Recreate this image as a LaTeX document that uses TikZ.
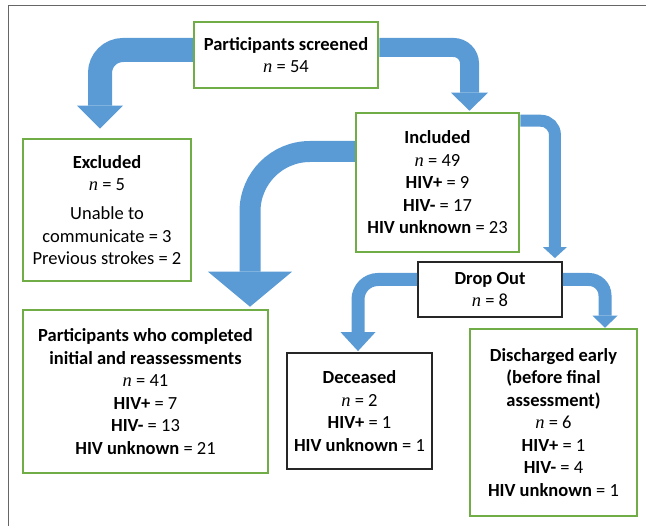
\documentclass[tikz,border=0pt]{standalone}
\usepackage{fontspec}
\setmainfont{Carlito}
\newfontfamily\serifit{Liberation Serif}
\usepackage{tikz}
\usetikzlibrary{arrows.meta,positioning}
\definecolor{boxgreen}{RGB}{112,173,71}
\definecolor{flowblue}{RGB}{91,155,213}
\newcommand{\nn}{{\serifit\itshape n}}

\begin{document}
\begin{tikzpicture}[x=1pt, y=-1pt, font=\fontsize{18.5}{22.5}\selectfont,
    greenbox/.style={rectangle,draw=boxgreen,line width=2.5pt,fill=white,align=center,inner sep=0pt},
    blackbox/.style={rectangle,draw=black!85,line width=1.8pt,fill=white,align=center,inner sep=0pt}]
   \useasboundingbox (0,0) rectangle (646,526);
   \draw[black!60, line width=1.5pt] (646,5.5) -| (8.5,526);
   % boxes
   \node (scr) [greenbox, minimum width=184pt, minimum height=66pt] at (286,55)
     {\textbf{Participants screened}\\ \nn{} = 54};
   \node (exc) [greenbox, minimum width=168pt, minimum height=142pt] at (107,210)
     {\textbf{Excluded}\\ \nn{} = 5\\[6.5pt] Unable to\\ communicate = 3\\ Previous strokes = 2};
   \node (inc) [greenbox, minimum width=163pt, minimum height=139pt] at (437.5,182.5)
     {\textbf{Included}\\ \nn{} = 49\\ \textbf{HIV+} = 9\\ \textbf{HIV-} = 17\\ \textbf{HIV unknown} = 23};
   \node (drop) [blackbox, minimum width=144pt, minimum height=55pt] at (490,289.5)
     {\textbf{Drop Out}\\ \nn{} = 8};
   \node (comp) [greenbox, minimum width=245pt, minimum height=163pt] at (145.5,391.5)
     {\textbf{Participants who completed}\\ \textbf{initial and reassessments}\\ \nn{} = 41\\ \textbf{HIV+} = 7\\ \textbf{HIV-} = 13\\ \textbf{HIV unknown} = 21};
   \node (dec) [blackbox, minimum width=145pt, minimum height=116pt] at (359.5,411)
     {\textbf{Deceased}\\ \nn{} = 2\\ \textbf{HIV+} = 1\\ \textbf{HIV unknown} = 1};
   \node (dis) [greenbox, minimum width=167pt, minimum height=187pt] at (553.5,422.5)
     {\textbf{Discharged early}\\ \textbf{(before final}\\ \textbf{assessment)}\\ \nn{} = 6\\ \textbf{HIV+} = 1\\ \textbf{HIV-} = 4\\ \textbf{HIV unknown} = 1};
   % flow arrows
   \begin{scope}[draw=flowblue]
    \draw[line width=24pt, rounded corners=23pt, -{Triangle[width=46pt,length=23pt,line width=0pt]}]
      ([yshift=5pt]scr.west) -| ([xshift=-7pt,yshift=9pt]exc.north);
    \draw[line width=19pt, rounded corners=16pt, -{Triangle[width=37pt,length=18pt,line width=0pt]}]
      ([yshift=7.5pt]scr.east) -| ([xshift=32pt,yshift=1pt]inc.north);
    \draw[line width=21pt, rounded corners=60pt, -{Triangle[width=84pt,length=35pt,line width=0pt]}]
      ([yshift=31pt]inc.west) -| ([xshift=104.5pt,yshift=2pt]comp.north);
    \draw[line width=12pt, rounded corners=14pt, -{Triangle[width=24pt,length=11pt,line width=0pt]}]
      ([yshift=-9pt]inc.north east) -| ([xshift=-8pt,yshift=3pt]drop.north east);
    \draw[line width=13pt, rounded corners=20pt, -{Triangle[width=35pt,length=19pt,line width=0pt]}]
      ([yshift=10pt]drop.west) -| ([xshift=-1.5pt,yshift=1pt]dec.north);
    \draw[line width=13pt, rounded corners=16pt, -{Triangle[width=25pt,length=12pt,line width=0pt]}]
      ([yshift=10pt]drop.east) -| ([xshift=51.5pt]dis.north);
   \end{scope}
\end{tikzpicture}
\end{document}
